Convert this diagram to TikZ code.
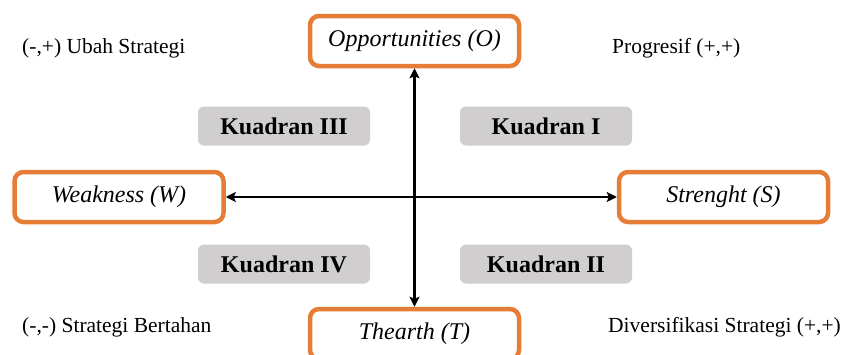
\documentclass[tikz,border=0pt]{standalone}
\usepackage{fontspec}
\setmainfont{Liberation Serif}
\usetikzlibrary{arrows.meta}
\definecolor{boxorange}{RGB}{230,125,55}
\definecolor{quadgray}{RGB}{208,206,206}
\begin{document}
\begin{tikzpicture}[x=1pt,y=-1pt,
  axisbox/.style={draw=boxorange, line width=4.5pt, rounded corners=9pt, fill=white,
    minimum width=209pt, minimum height=50pt, inner sep=0pt,
    font=\fontsize{24}{28}\selectfont\itshape},
  quadbox/.style={fill=quadgray, rounded corners=6pt, minimum width=172pt, minimum height=39pt,
    inner sep=0pt, font=\fontsize{24}{28}\selectfont\bfseries},
  corner/.style={anchor=west, inner sep=0pt, font=\fontsize{21.5}{25}\selectfont},
  axis/.style={line width=2.2pt, {Stealth[length=10pt,width=10pt,inset=2pt]}-{Stealth[length=10pt,width=10pt,inset=2pt]}}
]
\clip (0,0) rectangle (843,354);
\fill[white] (0,0) rectangle (843,354);

\node[axisbox] (O) at (414.5,41) {Opportunities (O)};
\node[axisbox] (W) at (119,197) {Weakness (W)};
\node[axisbox] (S) at (723.5,197) {Strenght (S)};
\node[axisbox] (T) at (414.5,334) {Thearth (T)};

\node[quadbox] (q3) at (284,126) {Kuadran III};
\node[quadbox] (q1) at (546,126) {Kuadran I};
\node[quadbox] (q4) at (284,264) {Kuadran IV};
\node[quadbox] (q2) at (546,264) {Kuadran II};

\node[corner] (tl) at (22,48) {(-,+) Ubah Strategi};
\node[corner] (tr) at (612,48) {Progresif (+,+)};
\node[corner] (bl) at (22,327) {(-,-) Strategi Bertahan};
\node[corner] (br) at (608,327) {Diversifikasi Strategi (+,+)};

\draw[axis] (T.north) -- (O.south);
\draw[axis] (W.east) -- (S.west);
\end{tikzpicture}
\end{document}
